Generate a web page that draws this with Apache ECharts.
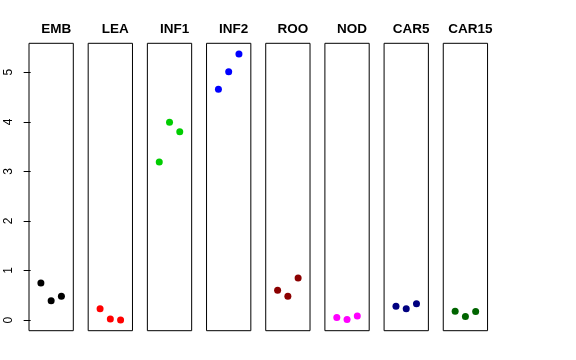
<!DOCTYPE html>
<html>
<head>
<meta charset="utf-8">
<script src="https://cdn.jsdelivr.net/npm/echarts@6/dist/echarts.min.js"></script>
<style>html,body{margin:0;padding:0;background:#fff}#c{width:576px;height:360px}</style>
</head>
<body>
<div id="c"></div>
<script>
const panels = ["EMB","LEA","INF1","INF2","ROO","NOD","CAR5","CAR15"];
const colors = ["#000000","#FF0000","#00CD00","#0000FF","#8B0000","#FF00FF","#000080","#006400"];
const xPos = [1, 2, 3];
const EMB = [0.75, 0.39, 0.48];
const LEA = [0.23, 0.02, 0.00];
const INF1 = [3.19, 3.99, 3.80];
const INF2 = [4.66, 5.01, 5.37];
const ROO = [0.60, 0.48, 0.85];
const NOD = [0.05, 0.01, 0.08];
const CAR5 = [0.28, 0.23, 0.33];
const CAR15 = [0.18, 0.07, 0.17];
const yTicks = [0, 1, 2, 3, 4, 5];
const values = [EMB, LEA, INF1, INF2, ROO, NOD, CAR5, CAR15];

const chart = echarts.init(document.getElementById('c'), null, {renderer: 'canvas'});
const grids = [], xAxes = [], yAxes = [], series = [], titles = [];
const left0 = 29, step = 59.18, gw = 44.3, gTop = 43.3, gh = 287.4;
panels.forEach((name, i) => {
  const l = left0 + step * i;
  grids.push({left: l, top: gTop, width: gw, height: gh, show: true, borderColor: '#000', borderWidth: 1, backgroundColor: 'transparent', containLabel: false});
  xAxes.push({type: 'value', gridIndex: i, min: -0.16, max: 4.16, show: false});
  yAxes.push({
    type: 'value', gridIndex: i, min: -0.215, max: 5.585,
    show: i === 0,
    splitLine: {show: false},
    axisLine: {show: false},
    axisTick: {show: i === 0, length: 7, customValues: yTicks, lineStyle: {color: '#000'}},
    axisLabel: {show: i === 0, customValues: yTicks, rotate: 90, margin: 14, fontSize: 12, color: '#000', fontFamily: 'Liberation Sans'}
  });
  series.push({
    type: 'scatter', xAxisIndex: i, yAxisIndex: i,
    data: xPos.map((x, k) => [x, values[i][k]]),
    symbolSize: 7, itemStyle: {color: colors[i], opacity: 1}, silent: true
  });
  titles.push({text: name, left: l + gw / 2, top: 17, textAlign: 'center',
    textStyle: {fontSize: 13.5, fontWeight: 'bold', color: '#000', fontFamily: 'Liberation Sans'}});
});
chart.setOption({animation: false, title: titles, grid: grids, xAxis: xAxes, yAxis: yAxes, series: series});
</script>
</body>
</html>
